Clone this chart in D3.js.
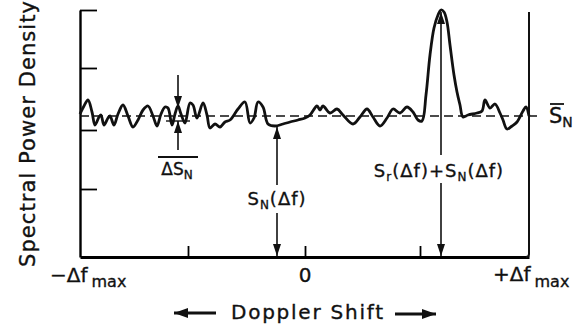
<!DOCTYPE html>
<html>
<head>
<meta charset="utf-8">
<script src="https://cdn.jsdelivr.net/npm/d3@7"></script>
<style>
  body { margin: 0; background: #fff; }
  svg { display: block; }
  text { font-family: "DejaVu Sans", sans-serif; fill: #111; stroke: #111; stroke-width: 0.35; }
</style>
</head>
<body>
<div id="chart"></div>
<script>
// doppler shift (arbitrary units, 0 = centre) and spectral power density
const dopplerShift = [-225,-221,-217,-213,-210,-206,-204,-201,-197,-195,-191,-187,-182,-177,-172,-167,-162,-157,-152,-148,
  -144,-140,-137,-133,-130,-127,-124,-120,-115,-112,-108,-102,-98,-95,-90,-85,-80,-75,-67,-60,
  -55,-51,-47,-42,-37,-30,-22,-15,-7,0,5,12,15,18,25,32,38,48,55,62,
  68,75,82,88,95,102,108,113,117,121,125,129,133,136,139,142,145,149,152,155,
  158,163,172,177,180,185,190,195,198,202,207,212,218,221,224]
const powerDensity = [143,151,157,145,132,140,142,132,139,141,132,143,152,141,130,137,147,151,141,131,
  143,150,149,132,143,151,143,134,154,152,139,154,142,129,133,130,135,137,148,155,
  134,139,155,150,133,131,133,135,137,139,142,151,147,151,144,148,142,133,140,148,
  140,131,139,148,144,150,145,137,136,162,202,229,242,247,245,235,212,182,165,152,
  140,142,144,146,157,149,153,144,137,128,131,135,146,150,141]
const meanNoise = 141          // S_N level
const yTicks = [68, 127, 189, 247]
const xTicks = [-117, 0, 115]
const xRange = [-225, 224]
const yRange = [0, 247]

// annotation anchors (x in doppler units)
const deltaSnX = -127
const snX = -28
const peakX = 136

const W = 577, H = 326
const margin = {left: 80, right: 48, top: 10, bottom: 69}

const svg = d3.select("#chart").append("svg")
  .attr("width", W).attr("height", H)

const x = d3.scaleLinear().domain(xRange).range([margin.left, W - margin.right])
const y = d3.scaleLinear().domain(yRange).range([H - margin.bottom, margin.top])

const defs = svg.append("defs")
defs.append("marker")
  .attr("id", "head")
  .attr("viewBox", "0 0 12 8")
  .attr("refX", 12).attr("refY", 4)
  .attr("markerWidth", 12).attr("markerHeight", 8)
  .attr("markerUnits", "userSpaceOnUse")
  .attr("orient", "auto")
  .append("path").attr("d", "M0,0 L12,4 L0,8 Z").attr("fill", "#111")
defs.append("marker")
  .attr("id", "bighead")
  .attr("viewBox", "0 0 14 10")
  .attr("refX", 14).attr("refY", 5)
  .attr("markerWidth", 14).attr("markerHeight", 10)
  .attr("markerUnits", "userSpaceOnUse")
  .attr("orient", "auto")
  .append("path").attr("d", "M0,0 L14,5 L0,10 Z").attr("fill", "#111")

// left axis, ticks pointing inward
svg.append("g")
  .attr("transform", "translate(" + x(xRange[0]) + ",0)")
  .call(d3.axisLeft(y).tickValues(yTicks).tickSizeInner(-17).tickSizeOuter(0).tickFormat(""))
  .call(g => g.select(".domain").attr("stroke-width", 2.4))
  .call(g => g.selectAll(".tick line").attr("stroke-width", 1.8))

// bottom axis, ticks pointing up
svg.append("g")
  .attr("transform", "translate(0," + y(0) + ")")
  .call(d3.axisBottom(x).tickValues(xTicks).tickSizeInner(-11).tickSizeOuter(0).tickFormat(""))
  .call(g => g.select(".domain").attr("stroke-width", 2.8))
  .call(g => g.selectAll(".tick line").attr("stroke-width", 1.8))

// right frame line
svg.append("path")
  .attr("d", "M" + x(xRange[1]) + "," + (y(yRange[1]) + 2) + " L" + x(xRange[1]) + "," + (y(0) - 3)
    + " Q" + x(xRange[1]) + "," + y(0) + " " + (x(xRange[1]) - 3) + "," + y(0))
  .attr("fill", "none").attr("stroke", "#111").attr("stroke-width", 2)

// mean noise level, dashed
svg.append("line")
  .attr("x1", x(xRange[0])).attr("x2", x(xRange[1]) + 8)
  .attr("y1", y(meanNoise)).attr("y2", y(meanNoise))
  .attr("stroke", "#111").attr("stroke-width", 1.6).attr("stroke-dasharray", "9,5")

// spectrum
const pts = dopplerShift.map((d, i) => [d, powerDensity[i]])
svg.append("path")
  .datum(pts)
  .attr("fill", "none").attr("stroke", "#111").attr("stroke-width", 2.8)
  .attr("stroke-linejoin", "round")
  .attr("d", d3.line().x(d => x(d[0])).y(d => y(d[1])).curve(d3.curveCatmullRom.alpha(0.5)))

function arrow(xv, y1, y2) {
  svg.append("line")
    .attr("x1", x(xv)).attr("x2", x(xv)).attr("y1", y1).attr("y2", y2)
    .attr("stroke", "#111").attr("stroke-width", 1.6).attr("marker-end", "url(#head)")
}

// delta S_N
arrow(deltaSnX, 75, 108)
arrow(deltaSnX, 150, 121)
svg.append("line").attr("x1", x(deltaSnX) - 12).attr("x2", x(deltaSnX) + 12)
  .attr("y1", 121).attr("y2", 121).attr("stroke", "#111").attr("stroke-width", 1.4)
svg.append("line").attr("x1", x(deltaSnX) - 20).attr("x2", x(deltaSnX) + 20)
  .attr("y1", 157).attr("y2", 157).attr("stroke", "#111").attr("stroke-width", 1.8)
const dsn = svg.append("text").attr("x", x(deltaSnX) - 1).attr("y", 175)
  .attr("text-anchor", "middle").attr("font-size", 17)
dsn.append("tspan").text("ΔS")
dsn.append("tspan").attr("font-size", 12).attr("dy", 4).text("N")

// S_N(delta f)
arrow(snX, 185, 127)
arrow(snX, 213, y(0) - 1)
const sn = svg.append("text").attr("x", x(snX)).attr("y", 205)
  .attr("text-anchor", "middle").attr("font-size", 18).attr("letter-spacing", 1)
sn.append("tspan").text("S")
sn.append("tspan").attr("font-size", 12).attr("dy", 4).text("N")
sn.append("tspan").attr("dy", -4).text("(Δf)")

// signal + noise
arrow(peakX, 155, y(powerDensity[dopplerShift.indexOf(peakX)]) + 2)
arrow(peakX, 183, y(0) - 1)
const sr = svg.append("text").attr("x", x(peakX) - 2).attr("y", 177)
  .attr("text-anchor", "middle").attr("font-size", 18).attr("letter-spacing", 1)
sr.append("tspan").text("S")
sr.append("tspan").attr("font-size", 12).attr("dy", 4).text("r")
sr.append("tspan").attr("dy", -4).text("(Δf)+S")
sr.append("tspan").attr("font-size", 12).attr("dy", 4).text("N")
sr.append("tspan").attr("dy", -4).text("(Δf)")

// mean level label
svg.append("line").attr("x1", 550).attr("x2", 564).attr("y1", 104).attr("y2", 104)
  .attr("stroke", "#111").attr("stroke-width", 1.8)
const sbar = svg.append("text").attr("x", 549).attr("y", 123).attr("font-size", 21)
sbar.append("tspan").text("S")
sbar.append("tspan").attr("font-size", 14).attr("dy", 4).text("N")

// x tick labels
const lmin = svg.append("text").attr("x", 50).attr("y", 282).attr("font-size", 20)
lmin.append("tspan").text("−Δf")
lmin.append("tspan").attr("font-size", 16).attr("dx", 4).attr("dy", 5).text("max")
svg.append("text").attr("x", x(0)).attr("y", 282).attr("text-anchor", "middle")
  .attr("font-size", 20).text("0")
const lmax = svg.append("text").attr("x", 493).attr("y", 281).attr("font-size", 20)
lmax.append("tspan").text("+Δf")
lmax.append("tspan").attr("font-size", 16).attr("dx", 4).attr("dy", 6).text("max")

// x axis title with arrows
svg.append("text").attr("x", 307).attr("y", 319).attr("text-anchor", "middle")
  .attr("font-size", 20).attr("textLength", 152).attr("lengthAdjust", "spacing").text("Doppler Shift")
svg.append("line").attr("x1", 216).attr("x2", 174).attr("y1", 313).attr("y2", 313)
  .attr("stroke", "#111").attr("stroke-width", 3).attr("marker-end", "url(#bighead)")
svg.append("line").attr("x1", 395).attr("x2", 436).attr("y1", 314).attr("y2", 314)
  .attr("stroke", "#111").attr("stroke-width", 3).attr("marker-end", "url(#bighead)")

// y axis title
svg.append("text")
  .attr("transform", "translate(35,134) rotate(-90)")
  .attr("text-anchor", "middle").attr("font-size", 21)
  .attr("textLength", 266).attr("lengthAdjust", "spacing")
  .text("Spectral Power Density")
</script>
</body>
</html>
